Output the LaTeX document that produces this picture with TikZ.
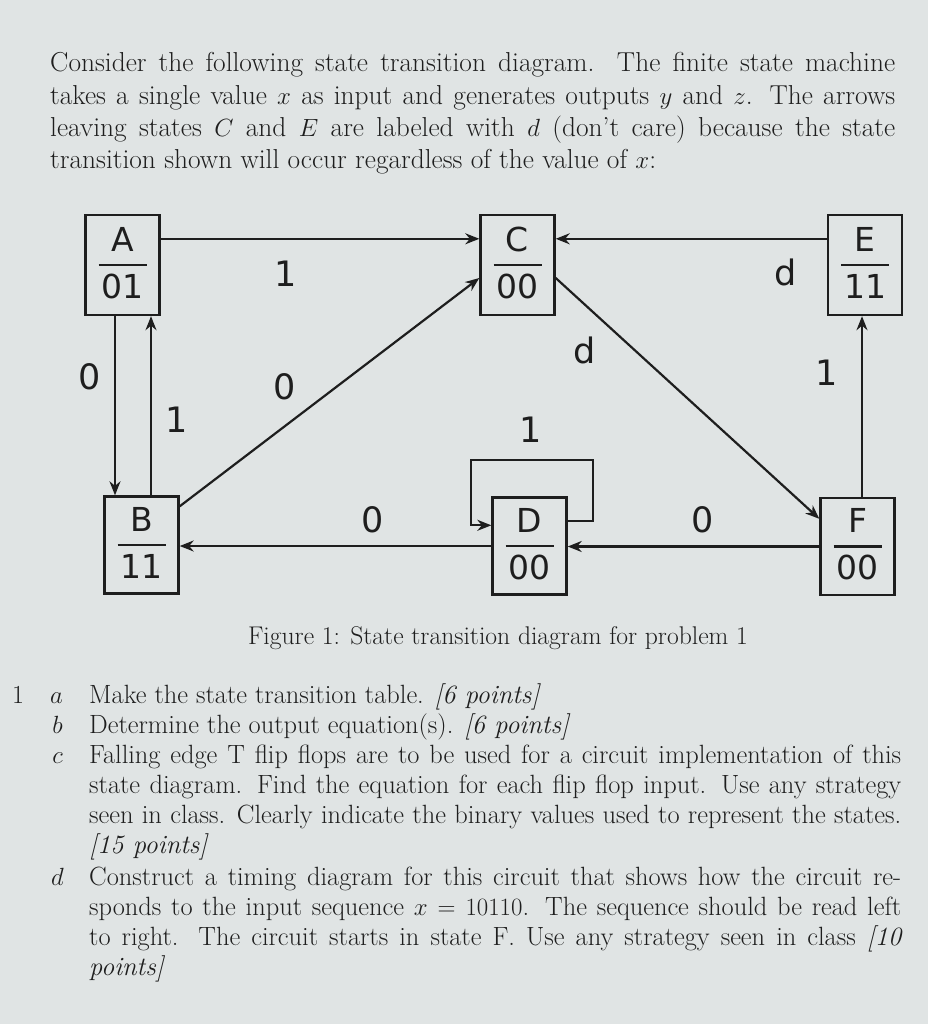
\documentclass[tikz,border=0pt]{standalone}
\usepackage{fontspec}
\newfontfamily\diagfont{DejaVu Sans}
\usetikzlibrary{arrows.meta,calc}
\definecolor{paper}{RGB}{224,228,228}
\definecolor{ink}{RGB}{30,30,30}
\tikzset{
  statebox/.style={draw=ink, line width=2.4pt, minimum width=74pt, inner sep=0pt},
  stxt/.style={inner sep=0pt, text=ink, font=\diagfont\fontsize{33}{33}\selectfont},
  lbl/.style={inner sep=0pt, text=ink, font=\diagfont\fontsize{35}{35}\selectfont},
  arr/.style={draw=ink, line width=2.2pt, -{Stealth[length=14pt,width=11pt]}},
  para/.style={inner sep=0pt, text=ink, align=justify, font=\fontsize{27.4}{32.2}\selectfont},
  qtext/.style={inner sep=0pt, text=ink, align=justify, font=\fontsize{26.4}{30.3}\selectfont, text width=812pt},
  qlab/.style={inner sep=0pt, text=ink, font=\fontsize{26}{30}\selectfont},
  captxt/.style={inner sep=0pt, text=ink, font=\fontsize{25.6}{30}\selectfont}
}
\newcommand\mystate[6]{%
  \node[statebox, minimum height=#6] (#1) at (#2,#3) {};
  \node[stxt] (#1top) at ([yshift=26pt]#1.center) {#4};
  \node[stxt] (#1bot) at ([yshift=-21pt]#1.center) {#5};
  \draw[draw=ink, line width=2.2pt] ([xshift=-24pt]#1.center) -- ([xshift=24pt]#1.center);
}
\begin{document}
\begin{tikzpicture}[x=1pt, y=-1pt]
\fill[paper] (0,0) rectangle (928,1024);
\useasboundingbox (0,0) rectangle (928,1024);

% introductory paragraph
\node[para, text width=845pt, anchor=base west] (intro) at (50,72)
  {Consider the following state transition diagram. The finite state machine\linebreak
   takes a single value $x$ as input and generates outputs $y$ and $z$. The arrows\linebreak
   leaving states $C$ and $E$ are labeled with $d$ (don't care) because the state\linebreak
   transition shown will occur regardless of the value of $x$:};

% states
\mystate{A}{122.5}{265}{A}{01}{100pt}
\mystate{C}{517.5}{265}{C}{00}{100pt}
\mystate{E}{865}{265}{E}{11}{100pt}
\mystate{B}{141.5}{545}{B}{11}{97pt}
\mystate{D}{529.5}{546}{D}{00}{97pt}
\mystate{F}{857.5}{546.5}{F}{00}{97pt}

% transitions
\draw[arr] ([yshift=-25pt]A.north east) -- ([yshift=-25pt]C.north west);
\draw[arr] ([yshift=-25pt]E.north west) -- ([yshift=-25pt]C.north east);
\draw[arr] ([xshift=-7.5pt]A.south) -- ([xshift=-7.5pt]A.south |- B.north);
\draw[arr] ([xshift=9.5pt]B.north) -- ([xshift=9.5pt]B.north |- A.south);
\draw[arr] ([yshift=-11pt]B.north east) -- ([yshift=-13pt]C.west);
\draw[arr] ([yshift=-13pt]C.east) -- ([yshift=-22pt]F.north west);
\draw[arr] ([xshift=4.5pt]F.north) -- ([xshift=4.5pt]F.north |- E.south);
\draw[arr] ([yshift=-25pt]D.north east) -- ++(25,0) -- ++(0,-61) -- ++(-122,0) |- ([yshift=-29pt]D.north west);
\draw[arr] (D.west) -- (D.west -| B.east);
\draw[arr] (F.west) -- (F.west -| D.east);

% transition labels
\node[lbl] (lAC) at (286,274) {1};
\node[lbl] (lEC) at (786,272) {d};
\node[lbl] (lAB) at (90,377) {0};
\node[lbl] (lBA) at (177,420) {1};
\node[lbl] (lBC) at (285,387) {0};
\node[lbl] (lCF) at (585,350) {d};
\node[lbl] (lFE) at (827,373) {1};
\node[lbl] (lDD) at (531,430) {1};
\node[lbl] (lDB) at (373,520) {0};
\node[lbl] (lFD) at (703,520) {0};

% caption
\node[captxt, anchor=base] (caption) at (498,644) {Figure 1: State transition diagram for problem 1};

% questions
\node[qlab, anchor=base west] (qnum) at (12,703) {1};
\node[qlab, anchor=base east] (la) at (63,703) {$a$};
\node[qlab, anchor=base east] (lb) at (63,733) {$b$};
\node[qlab, anchor=base east] (lc) at (63,763) {$c$};
\node[qlab, anchor=base east] (ld) at (64,885) {$d$};

\node[qtext, anchor=base west] (qa) at (89,703)
  {Make the state transition table. \textit{[6 points]}};
\node[qtext, anchor=base west] (qb) at (89,733)
  {Determine the output equation(s). \textit{[6 points]}};
\node[qtext, anchor=base west] (qc) at (89,763)
  {Falling edge T flip flops are to be used for a circuit implementation of this\linebreak
   state diagram. Find the equation for each flip flop input. Use any strategy\linebreak
   seen in class. Clearly indicate the binary values used to represent the states.\linebreak
   \textit{[15 points]}};
\node[qtext, anchor=base west] (qd) at (89,885)
  {Construct a timing diagram for this circuit that shows how the circuit re-\linebreak
   sponds to the input sequence $x = 10110$. The sequence should be read left\linebreak
   to right. The circuit starts in state F. Use any strategy seen in class \textit{[10\linebreak
   points]}};
\end{tikzpicture}
\end{document}
